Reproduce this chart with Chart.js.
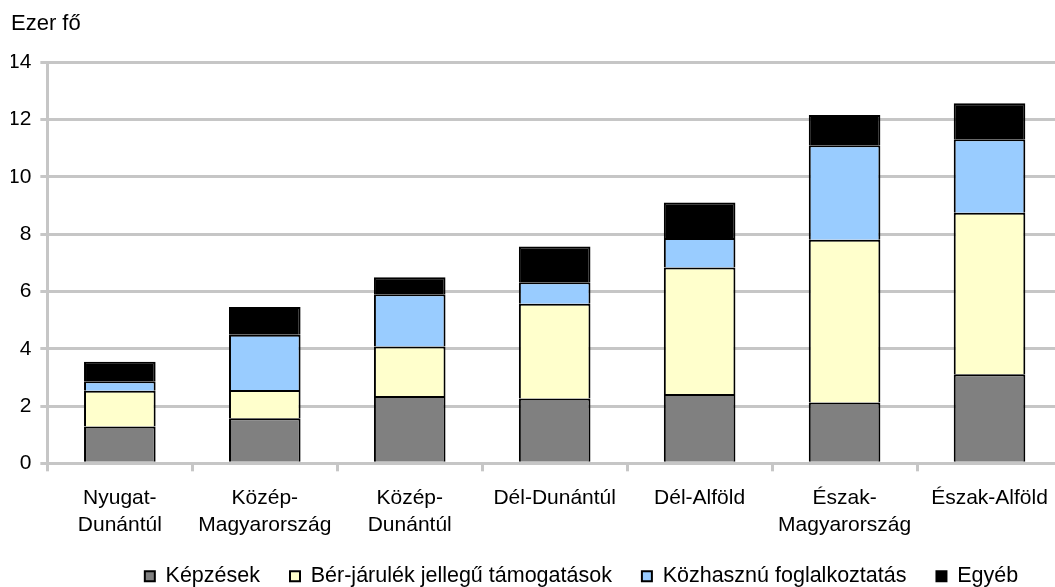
<!DOCTYPE html>
<html>
<head>
<meta charset="utf-8">
<script src="https://cdn.jsdelivr.net/npm/chart.js@4"></script>
<style>
  html, body { margin: 0; padding: 0; background: #fff; overflow: hidden; }
  #wrap { width: 1055px; height: 587px; overflow: hidden; }
  canvas { display: block; }
</style>
</head>
<body>
<div id="wrap"><canvas id="chart" width="1164" height="597"></canvas></div>
<script>
const regions = [
    ["Nyugat-", "Dunántúl"],
    ["Közép-", "Magyarország"],
    ["Közép-", "Dunántúl"],
    "Dél-Dunántúl",
    "Dél-Alföld",
    ["Észak-", "Magyarország"],
    "Észak-Alföld",
];
const kepzesek = [1.29, 1.57, 2.35, 2.26, 2.42, 2.12, 3.11];
const berJarulek = [1.24, 0.99, 1.73, 3.31, 4.42, 5.69, 5.64];
const kozhasznu = [0.34, 1.93, 1.82, 0.75, 1.03, 3.30, 2.57];
const egyeb = [0.68, 0.97, 0.60, 1.25, 1.24, 1.05, 1.25];

const seriesNames = ["Képzések", "Bér-járulék jellegű támogatások", "Közhasznú foglalkoztatás", "Egyéb"];
const seriesColors = ["#808080", "#ffffcc", "#99ccff", "#000000"];

const font = "'Liberation Sans', Arial, sans-serif";
Chart.defaults.font.family = font;
Chart.defaults.color = "#000";

const gridGrey = "#c6c6c6";

const makeDataset = (label, data, color) => ({
    label,
    data,
    backgroundColor: color,
    borderColor: "#000",
    borderWidth: 2,
    categoryPercentage: 1,
    barPercentage: 0.494,
});

const datasets = [kepzesek, berJarulek, kozhasznu, egyeb].map((d, i) =>
    makeDataset(seriesNames[i], d, seriesColors[i])
);

// the legend in the original sits a bit right of the centre
const legendShift = {
    id: "legendShift",
    afterLayout(chart) {
        chart.legend.left += 45;
        chart.legend.right += 45;
    },
};

const ctx = document.getElementById("chart").getContext("2d");
const chart = new Chart(ctx, {
    type: "bar",
    data: { labels: regions, datasets },
    plugins: [legendShift],
    options: {
        responsive: false,
        animation: false,
        layout: { padding: { left: 11, right: 102, top: 0, bottom: 0 } },
        plugins: {
            title: {
                display: true,
                text: "Ezer fő",
                align: "start",
                font: { size: 22, weight: "normal" },
                color: "#000",
                padding: { top: 11, bottom: 25 },
            },
            legend: {
                position: "bottom",
                labels: {
                    boxWidth: 10,
                    boxHeight: 10,
                    font: { size: 21.5 },
                    color: "#000",
                    padding: 30,
                },
            },
            tooltip: { enabled: false },
        },
        scales: {
            x: {
                stacked: true,
                afterFit: (scale) => {
                    scale.height -= 16;
                },
                grid: {
                    offset: true,
                    drawOnChartArea: false,
                    drawTicks: true,
                    tickLength: 8,
                    color: gridGrey,
                    lineWidth: 3,
                },
                border: { color: gridGrey, width: 3 },
                ticks: {
                    font: { size: 21, lineHeight: 1.29 },
                    color: "#000",
                    maxRotation: 0,
                    autoSkip: false,
                    padding: 13,
                },
            },
            y: {
                stacked: true,
                min: 0,
                max: 14,
                afterFit: (scale) => {
                    scale.width -= 12;
                },
                ticks: { stepSize: 2, font: { size: 21 }, color: "#000", padding: 9 },
                grid: { color: gridGrey, lineWidth: 3, tickLength: 7 },
                border: { color: gridGrey, width: 3 },
            },
        },
    },
});
</script>
</body>
</html>
